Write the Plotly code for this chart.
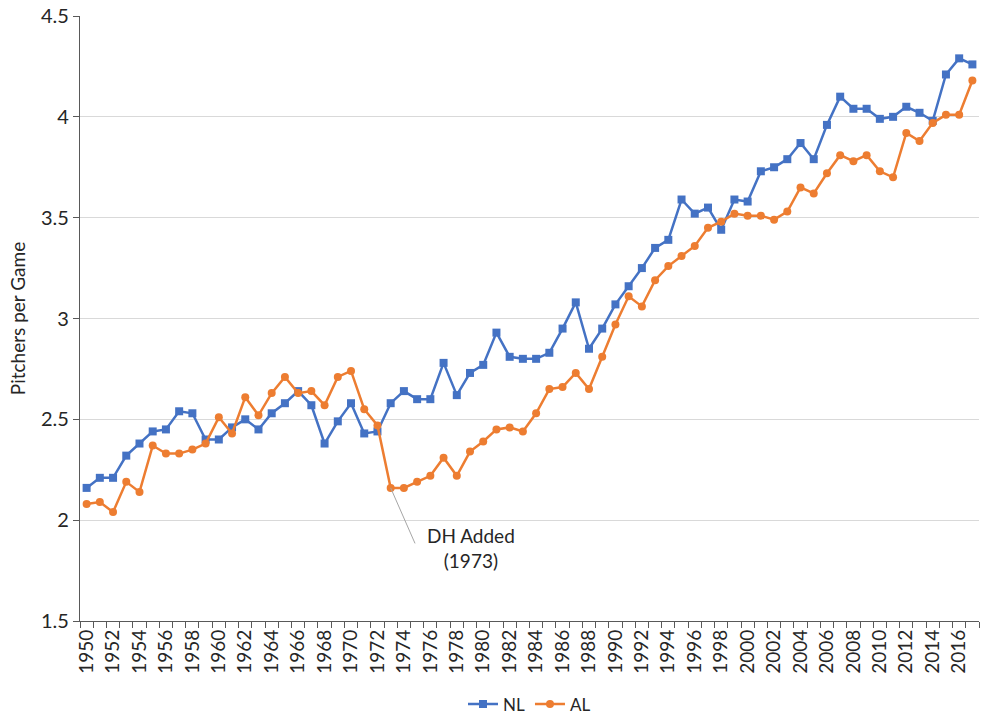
import plotly.graph_objects as go

years = [str(y) for y in range(1950, 2018)]

nl = [2.16, 2.21, 2.21, 2.32, 2.38, 2.44, 2.45, 2.54, 2.53, 2.40,
      2.40, 2.46, 2.50, 2.45, 2.53, 2.58, 2.64, 2.57, 2.38, 2.49,
      2.58, 2.43, 2.44, 2.58, 2.64, 2.60, 2.60, 2.78, 2.62, 2.73,
      2.77, 2.93, 2.81, 2.80, 2.80, 2.83, 2.95, 3.08, 2.85, 2.95,
      3.07, 3.16, 3.25, 3.35, 3.39, 3.59, 3.52, 3.55, 3.44, 3.59,
      3.58, 3.73, 3.75, 3.79, 3.87, 3.79, 3.96, 4.10, 4.04, 4.04,
      3.99, 4.00, 4.05, 4.02, 3.98, 4.21, 4.29, 4.26]

al = [2.08, 2.09, 2.04, 2.19, 2.14, 2.37, 2.33, 2.33, 2.35, 2.38,
      2.51, 2.43, 2.61, 2.52, 2.63, 2.71, 2.63, 2.64, 2.57, 2.71,
      2.74, 2.55, 2.47, 2.16, 2.16, 2.19, 2.22, 2.31, 2.22, 2.34,
      2.39, 2.45, 2.46, 2.44, 2.53, 2.65, 2.66, 2.73, 2.65, 2.81,
      2.97, 3.11, 3.06, 3.19, 3.26, 3.31, 3.36, 3.45, 3.48, 3.52,
      3.51, 3.51, 3.49, 3.53, 3.65, 3.62, 3.72, 3.81, 3.78, 3.81,
      3.73, 3.70, 3.92, 3.88, 3.97, 4.01, 4.01, 4.18]

y_ticks = [1.5, 2, 2.5, 3, 3.5, 4, 4.5]
y_tick_text = ["1.5", "2", "2.5", "3", "3.5", "4", "4.5"]
x_tick_text = [y if i % 2 == 0 else "" for i, y in enumerate(years)]

dh_year = "1973"
dh_idx = years.index(dh_year)
dh_val = al[dh_idx]

FONT = "Lato"
BLUE = "#4472C4"
ORANGE = "#ED7D31"
AXIS = "#595959"
TXT = "#262626"

fig = go.Figure()
fig.add_trace(go.Scatter(
    x=years, y=nl, name="NL", mode="lines+markers",
    line=dict(color=BLUE, width=2.5),
    marker=dict(symbol="square", size=8, color=BLUE),
))
fig.add_trace(go.Scatter(
    x=years, y=al, name="AL", mode="lines+markers",
    line=dict(color=ORANGE, width=2.5),
    marker=dict(symbol="circle", size=8, color=ORANGE),
))

# leader line
fig.add_annotation(
    x=dh_idx, y=dh_val, xref="x", yref="y", text="",
    showarrow=True, arrowhead=0, arrowwidth=1, arrowcolor="#a6a6a6",
    ax=25, ay=57, standoff=0, startstandoff=0,
)
fig.add_annotation(
    x=dh_idx, y=dh_val, xref="x", yref="y",
    text="DH Added<br>(1973)", showarrow=False,
    xanchor="center", yanchor="middle", xshift=80, yshift=-60,
    font=dict(family=FONT, size=19, color=TXT),
)

fig.update_layout(
    width=981, height=715,
    margin=dict(l=80, r=2, t=16, b=94, autoexpand=False),
    paper_bgcolor="white", plot_bgcolor="white",
    font=dict(family=FONT, size=19, color=TXT),
    showlegend=True,
    legend=dict(orientation="h", x=0.5, xanchor="center", y=-0.108, yanchor="top",
                font=dict(family=FONT, size=17, color=TXT),
                itemwidth=30, tracegroupgap=0),
    xaxis=dict(
        type="category", range=[-0.5, len(years) - 0.5], automargin=False,
        tickvals=years, ticktext=x_tick_text, tickangle=-90,
        tickson="boundaries", ticks="outside", ticklen=6, tickcolor=AXIS,
        showline=True, linecolor=AXIS, linewidth=1.3,
        showgrid=False, tickfont=dict(family=FONT, size=19, color=TXT),
    ),
    yaxis=dict(
        range=[1.5, 4.5], tickvals=y_ticks, ticktext=y_tick_text, automargin=False,
        ticks="outside", ticklen=6, tickcolor=AXIS,
        showline=True, linecolor=AXIS, linewidth=1.3,
        showgrid=True, gridcolor="#d9d9d9", gridwidth=1.3, zeroline=False,
        title=dict(text="Pitchers per Game", standoff=10,
                   font=dict(family=FONT, size=19, color=TXT)),
        tickfont=dict(family=FONT, size=20, color=TXT),
    ),
)

fig.write_html(
    "out.html",
    config={"displayModeBar": False},
    post_script="document.body.style.margin='0';document.body.style.overflow='hidden';",
)
